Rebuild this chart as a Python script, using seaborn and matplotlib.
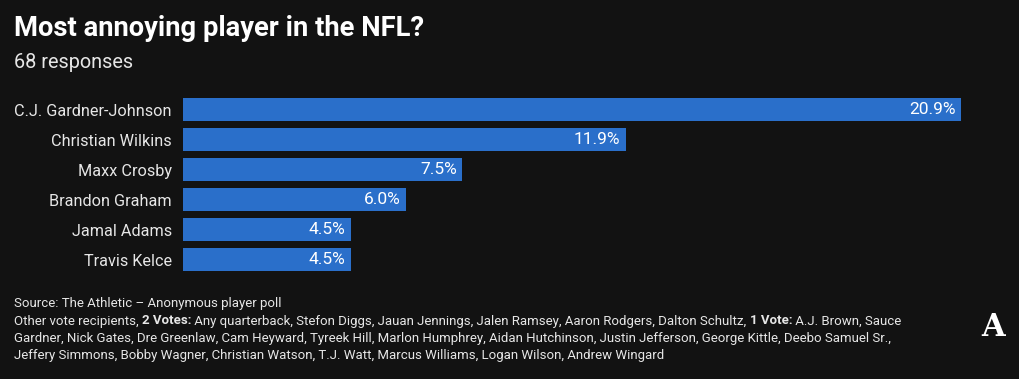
import matplotlib.pyplot as plt
import seaborn as sns

# data
players = ['C.J. Gardner-Johnson', 'Christian Wilkins', 'Maxx Crosby',
           'Brandon Graham', 'Jamal Adams', 'Travis Kelce']
shares = [20.9, 11.9, 7.5, 6.0, 4.5, 4.5]

title = 'Most annoying player in the NFL?'
subtitle = '68 responses'
source = 'Source: The Athletic – Anonymous player poll'
# footnote pieces: (text, bold)
note_lines = [
    [('Other vote recipients, ', False), ('2 Votes:', True),
     (' Any quarterback, Stefon Diggs, Jauan Jennings, Jalen Ramsey, Aaron Rodgers, Dalton Schultz, ', False),
     ('1 Vote:', True), (' A.J. Brown, Sauce', False)],
    [('Gardner, Nick Gates, Dre Greenlaw, Cam Heyward, Tyreek Hill, Marlon Humphrey, Aidan Hutchinson, '
      'Justin Jefferson, George Kittle, Deebo Samuel Sr.,', False)],
    [('Jeffery Simmons, Bobby Wagner, Christian Watson, T.J. Watt, Marcus Williams, Logan Wilson, Andrew Wingard', False)],
]

bg = '#121212'
bar_color = '#2a6fca'
fg = '#ffffff'
grey = '#e6e6e6'

sns.set_theme(style='white')
plt.rcParams['font.family'] = ['Roboto', 'DejaVu Sans']

fig = plt.figure(figsize=(10.2, 3.79), dpi=100, facecolor=bg)
ax = fig.add_axes([183 / 1020, 1 - 274.5 / 379, 778 / 1020, 180 / 379])
ax.set_facecolor(bg)

sns.barplot(x=shares, y=players, color=bar_color, saturation=1, width=0.77,
            edgecolor='none', ax=ax)
ax.set_xlim(0, max(shares))
ax.set_ylim(len(players) - 0.5, -0.5)
ax.set_xlabel('')
ax.set_ylabel('')
ax.set_xticks([])
for s in ax.spines.values():
    s.set_visible(False)
ax.tick_params(axis='y', length=0, pad=8, labelsize=11.7, labelcolor=grey)

# value labels inside the bar ends
for i, v in enumerate(shares):
    ax.annotate(f'{v:.1f}%', xy=(v, i), xytext=(-4, 0), textcoords='offset points',
                ha='right', va='center', color=fg, fontsize=12.5)

# title block
fig.text(14 / 1020, 1 - 29 / 379, title, fontsize=19.7, fontweight='bold',
         color=fg, va='center', ha='left')
fig.text(14 / 1020, 1 - 62 / 379, subtitle, fontsize=14.3, color=grey,
         va='center', ha='left')

# footnote
fs = 9.5
fig.text(14 / 1020, 1 - 303 / 379, source, fontsize=fs, color=grey,
         va='center', ha='left')
y = 321
for line in note_lines:
    prev = None
    for txt, bold in line:
        kw = dict(fontsize=fs, color=grey, fontweight='bold' if bold else 'normal')
        if prev is None:
            prev = fig.text(14 / 1020, 1 - y / 379, txt, va='center', ha='left', **kw)
        else:
            prev = ax.annotate(txt, xy=(1, 0), xycoords=prev, va='bottom', ha='left',
                               annotation_clip=False, **kw)
    y += 17.5

# logo
fig.text(993 / 1020, 1 - 327 / 379, 'A', fontsize=22, fontweight='bold',
         family='DejaVu Serif', color=fg, ha='center', va='center')

fig.savefig('out.png', dpi=100, facecolor=bg)
